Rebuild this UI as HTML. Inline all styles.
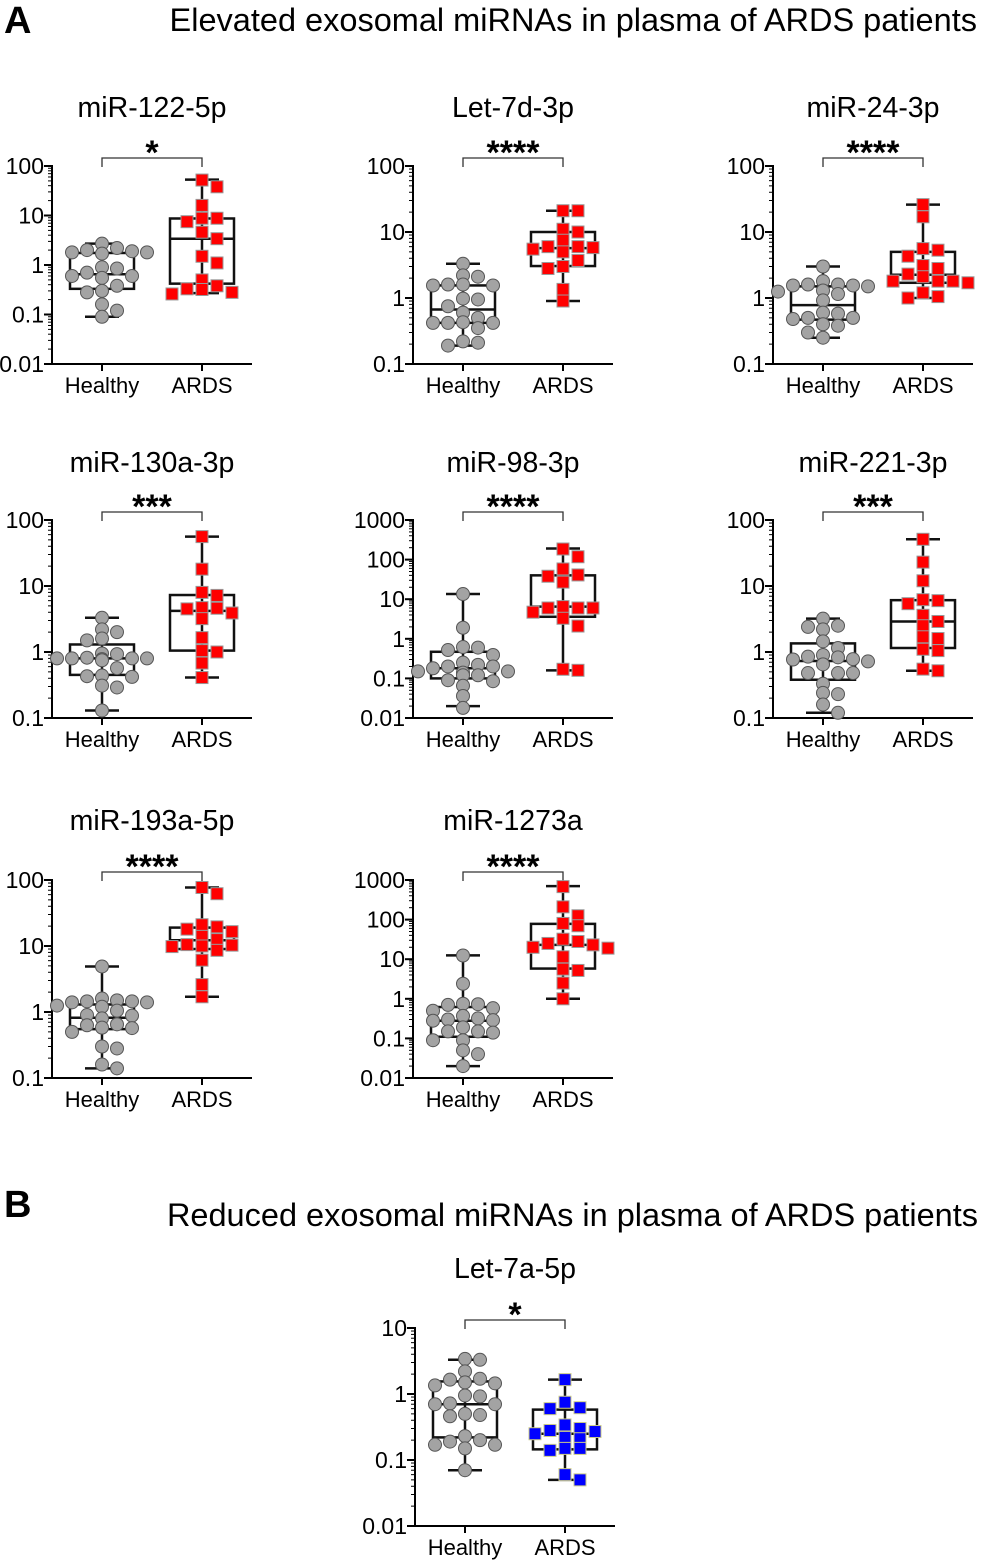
<!DOCTYPE html>
<html><head><meta charset="utf-8">
<style>
html,body{margin:0;padding:0;background:#fff;}
svg{display:block;font-family:"Liberation Sans",Arial,sans-serif;}
</style></head>
<body>
<svg id="fig" width="981" height="1562" viewBox="0 0 981 1562" xmlns="http://www.w3.org/2000/svg">
<text x="4" y="33" font-size="38" font-weight="bold">A</text>
<text x="977" y="31" font-size="32.5" text-anchor="end">Elevated exosomal miRNAs in plasma of ARDS patients</text>
<text x="4" y="1217" font-size="38" font-weight="bold">B</text>
<text x="978" y="1226" font-size="32.5" text-anchor="end">Reduced exosomal miRNAs in plasma of ARDS patients</text>
</svg>
<script>
const titles=["miR-122-5p","Let-7d-3p","miR-24-3p","miR-130a-3p","miR-98-3p","miR-221-3p","miR-193a-5p","miR-1273a","Let-7a-5p"];
const stars=["*","****","****","***","****","***","****","****","*"];
const categories=["Healthy","ARDS"];
const yMaxExp=[2,2,2,2,3,2,2,3,1];
const yMinExp=[-2,-1,-1,-1,-2,-1,-1,-2,-2];
const healthyPoints=[
[2.7,2.2,2.0,1.9,1.8,1.8,1.7,0.9,0.85,0.7,0.6,0.6,0.55,0.38,0.3,0.28,0.16,0.12,0.09],
[3.3,2.2,2.1,1.6,1.6,1.55,1.55,0.98,0.95,0.75,0.6,0.5,0.43,0.42,0.42,0.42,0.35,0.22,0.21,0.19],
[3.0,1.8,1.6,1.6,1.55,1.55,1.5,1.3,1.25,1.15,0.92,0.6,0.58,0.5,0.5,0.48,0.4,0.38,0.3,0.25],
[3.3,2.2,2.0,1.6,1.5,0.95,0.93,0.82,0.8,0.8,0.8,0.8,0.78,0.75,0.57,0.44,0.43,0.42,0.31,0.29,0.13],
[13.5,1.9,0.62,0.6,0.52,0.39,0.25,0.22,0.2,0.2,0.18,0.15,0.15,0.14,0.12,0.12,0.09,0.085,0.065,0.036,0.018],
[3.2,2.5,2.4,2.2,1.45,1.15,0.9,0.85,0.83,0.78,0.77,0.72,0.65,0.48,0.48,0.48,0.33,0.24,0.23,0.16,0.12],
[4.9,1.6,1.5,1.45,1.45,1.4,1.4,1.25,1.2,1.05,0.9,0.88,0.8,0.65,0.63,0.58,0.57,0.5,0.3,0.28,0.16,0.14],
[12.4,2.4,0.75,0.73,0.7,0.58,0.5,0.37,0.32,0.3,0.29,0.28,0.19,0.15,0.15,0.14,0.09,0.09,0.05,0.04,0.02],
[3.4,3.3,2.2,1.7,1.65,1.5,1.45,1.35,0.95,0.92,0.72,0.7,0.7,0.5,0.48,0.46,0.23,0.2,0.19,0.17,0.17,0.15,0.07]];
const ardsPoints=[
[52,38,16,8.8,8.8,7.5,4.6,3.4,1.5,1.1,0.5,0.38,0.33,0.32,0.28,0.26],
[21,21,11,10,7.5,6,6,5.8,5.5,5,3.7,3,2.8,1.35,0.9],
[26,17,5.6,5.3,4.3,3.1,2.8,2.3,2.1,1.8,1.8,1.8,1.7,1.2,1.05,1.0],
[56,18,8,7.2,4.7,4.6,4.5,3.9,3.2,1.65,1.05,1.0,0.68,0.41],
[185,118,58,41,38,27,6.5,6.0,6.0,6.0,4.7,3.3,2.1,0.17,0.16],
[51,23,12,6.2,6.0,5.4,3.6,2.9,2.5,1.7,1.6,1.1,1.05,0.55,0.52],
[77,62,21,19.5,18,16.5,14,12.5,10.5,10.3,10,9.8,8.6,6.1,2.6,1.7],
[680,210,125,80,70,32,28,25,23,20,19,11.5,5.6,5.2,2.5,1.0],
[1.65,0.75,0.62,0.6,0.34,0.3,0.28,0.27,0.25,0.22,0.21,0.15,0.15,0.14,0.06,0.05]];
// box stats: [min, q1, median, q3, max]
const healthyBox=[[0.09,0.33,0.65,1.75,2.7],[0.19,0.42,0.67,1.55,3.3],[0.25,0.47,0.78,1.5,3.0],[0.13,0.45,0.8,1.3,3.3],[0.02,0.1,0.18,0.47,13.5],[0.12,0.38,0.73,1.35,3.2],[0.14,0.55,0.82,1.3,4.9],[0.02,0.11,0.28,0.62,12.5],[0.07,0.22,0.7,1.55,3.3]];
const ardsBox=[[0.27,0.42,3.4,8.7,53],[0.9,3.05,5.7,10,21],[1.0,1.7,2.25,5.0,26],[0.41,1.05,4.2,7.3,56],[0.16,3.6,6.5,40,190],[0.52,1.15,2.9,6.1,51],[1.7,9.0,12.2,19,77],[1.0,5.8,23,78,700],[0.05,0.145,0.25,0.58,1.65]];

const NS="http://www.w3.org/2000/svg";
const svg=document.getElementById('fig');
function mk(tag,attrs,parent){const e=document.createElementNS(NS,tag);for(const k in attrs)e.setAttribute(k,attrs[k]);(parent||svg).appendChild(e);return e;}
const layout=[[52,166],[413,166],[773,166],[52,520],[413,520],[773,520],[52,880],[413,880],[415,1328]];
const titleY=[107,107,107,462,462,462,820,820,1268];
function fmt(e){return e>=0?String(Math.pow(10,e)):(e==-1?"0.1":e==-2?"0.01":"0.001");}

for(let p=0;p<9;p++){
  const ax=layout[p][0], top=layout[p][1], H=198, bot=top+H;
  const emax=yMaxExp[p], emin=yMinExp[p];
  const yS=v=>top+(emax-Math.log10(v))/(emax-emin)*H;
  const xS=i=>ax+50+100*i;
  const g=mk('g',{});
  
  
  const t=mk('text',{x:ax+100,y:titleY[p]+10,'font-size':28.5,'text-anchor':'middle'},g);t.textContent=titles[p];
  
  const by=top-8;
  const br=mk('path',{d:`M${xS(0)} ${by+9}V${by}H${xS(1)}V${by+9}`,fill:'none',stroke:'#333','stroke-width':1.3},g);
  
  const st=mk('text',{x:ax+100,y:by+6,'font-size':34,'font-weight':'bold','text-anchor':'middle'},g);st.textContent=stars[p];
  
  const ya=mk('line',{x1:ax,y1:top-1,x2:ax,y2:bot+1,stroke:'#000','stroke-width':2},g);
  
  for(let e=emin;e<=emax;e++){
    const y=yS(Math.pow(10,e));
    mk('line',{x1:ax-8,y1:y,x2:ax,y2:y,stroke:'#000','stroke-width':2},g);
    const tl=mk('text',{x:ax-8,y:y+8,'font-size':23,'text-anchor':'end'},g);tl.textContent=fmt(e);
    
    if(e<emax)for(let m=2;m<=9;m++){const yy=yS(m*Math.pow(10,e));mk('line',{x1:ax-4,y1:yy,x2:ax,y2:yy,stroke:'#000','stroke-width':1},g);}
  }
  const xa=mk('line',{x1:ax-1,y1:bot,x2:ax+200,y2:bot,stroke:'#000','stroke-width':2},g);
  
  for(let i=0;i<2;i++){
    mk('line',{x1:xS(i),y1:bot,x2:xS(i),y2:bot+7,stroke:'#000','stroke-width':2},g);
    const cl=mk('text',{x:xS(i),y:bot+29,'font-size':22,'text-anchor':'middle'},g);cl.textContent=categories[i];
    
  }
  [healthyBox[p],ardsBox[p]].forEach((b,i)=>{
    const cx=xS(i);
    const bg=mk('g',{},g);
    
    mk('line',{x1:cx,y1:yS(b[4]),x2:cx,y2:yS(b[0]),stroke:'#111','stroke-width':2.5},bg);
    mk('line',{x1:cx-17,y1:yS(b[4]),x2:cx+17,y2:yS(b[4]),stroke:'#111','stroke-width':2.5},bg);
    mk('line',{x1:cx-17,y1:yS(b[0]),x2:cx+17,y2:yS(b[0]),stroke:'#111','stroke-width':2.5},bg);
    mk('rect',{x:cx-32,y:yS(b[3]),width:64,height:yS(b[1])-yS(b[3]),fill:'none',stroke:'#111','stroke-width':2.5},bg);
    mk('line',{x1:cx-32,y1:yS(b[2]),x2:cx+32,y2:yS(b[2]),stroke:'#111','stroke-width':2.5},bg);
  });
  [healthyPoints[p],ardsPoints[p]].forEach((pts,i)=>{
    const cx=xS(i), placed=[];
    const sorted=pts.slice().sort((a,b)=>b-a);
    sorted.forEach(v=>{
      const y=yS(v);let k=0,off=0,best=0;
      for(k=0;k<=6;k++){
        off=k==0?0:(k%2?1:-1)*Math.ceil(k/2)*15;
        if(!placed.some(q=>Math.abs(q[0]-off)<13&&Math.abs(q[1]-y)<9)){best=off;break;}
        if(k==6)best=0;
      }
      placed.push([best,y]);
      let el;
      if(i==0){el=mk('circle',{cx:cx+best,cy:y,r:6.5,fill:'#a3a3a3',stroke:'#555','stroke-width':1},g);
        }
      else{const col=p==8?'#0000ff':'#ff0000';
        el=mk('rect',{x:cx+best-6,y:y-6,width:12,height:12,fill:col,stroke:p==8?'#cccc88':'#999','stroke-width':1},g);
        }
      
    });
  });
}
</script>
</body></html>
